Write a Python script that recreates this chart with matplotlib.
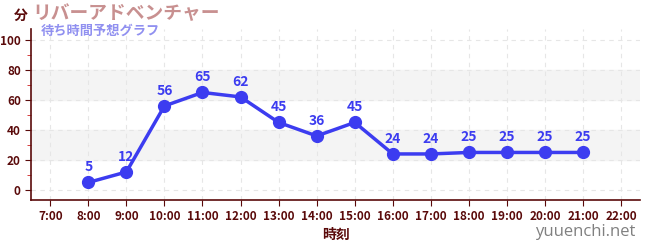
import matplotlib
matplotlib.use('Agg')
import matplotlib.pyplot as plt
from matplotlib.ticker import MultipleLocator

plt.rcParams['font.family'] = ['Noto Sans CJK JP', 'DejaVu Sans']

hours = [8, 9, 10, 11, 12, 13, 14, 15, 16, 17, 18, 19, 20, 21]
wait = [5, 12, 56, 65, 62, 45, 36, 45, 24, 24, 25, 25, 25, 25]
tick_hours = list(range(7, 23))
tick_labels = [f'{h}:00' for h in tick_hours]

title = 'リバーアドベンチャー'
subtitle = '待ち時間予想グラフ'

dark = '#5a0a0a'
blue = '#3c3cf0'

fig = plt.figure(figsize=(6.5, 2.5), dpi=100)
ax = fig.add_axes([0.048, 0.2, 0.937, 0.684])

ax.set_xlim(6.5, 22.5)
ax.set_ylim(-6.7, 107.3)

# alternating bands
for lo in (20, 60):
    ax.axhspan(lo, lo + 20, color='#f4f4f4', zorder=0)

ax.set_xticks(tick_hours)
ax.set_xticklabels(tick_labels)
ax.set_yticks([0, 20, 40, 60, 80, 100])
ax.yaxis.set_minor_locator(MultipleLocator(10))
ax.tick_params(axis='both', colors=dark, labelsize=8.5, length=4)
ax.tick_params(axis='y', which='minor', colors='#d02020', length=3)
for lbl in ax.get_xticklabels() + ax.get_yticklabels():
    lbl.set_fontweight('bold')
    lbl.set_color(dark)

ax.grid(True, which='major', linestyle=(0, (4, 4)), color='#e6e6e6', linewidth=0.8, zorder=0)

for s in ('top', 'right'):
    ax.spines[s].set_visible(False)
for s in ('left', 'bottom'):
    ax.spines[s].set_color(dark)
    ax.spines[s].set_linewidth(1.2)

ax.plot(hours, wait, color=blue, linewidth=2.5, marker='o', markersize=8.5, zorder=3)
for h, w in zip(hours, wait):
    ax.annotate(str(w), (h, w), xytext=(0, 6), textcoords='offset points',
                ha='center', va='bottom', color=blue, fontsize=10, fontweight='bold')

ax.set_xlabel('時刻', color=dark, fontsize=10, fontweight='bold', labelpad=3)

fig.text(0.022, 0.935, '分', color=dark, fontsize=10, fontweight='bold', va='center')
fig.text(0.05, 0.945, title, color='#c89090', fontsize=13.5, fontweight='bold', va='center')
fig.text(0.062, 0.875, subtitle, color='#9090f0', fontsize=9.5, fontweight='bold', va='center')
fig.text(0.977, 0.07, 'yuuenchi.net', color='#808080', fontsize=12, ha='right', va='center',
         family=['Open Sans', 'DejaVu Sans'])

fig.savefig('out.png', dpi=100)
